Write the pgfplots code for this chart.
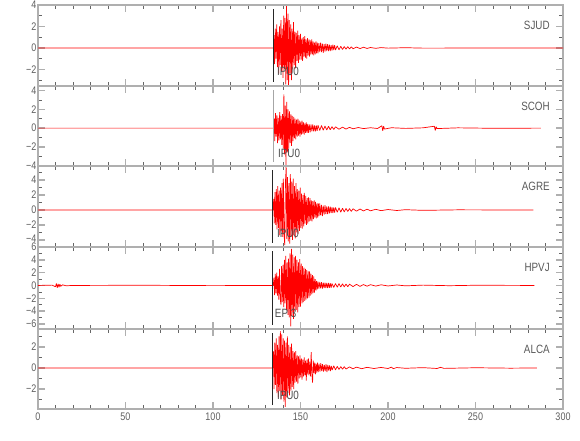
\documentclass[border=0pt]{standalone}
\usepackage{pgfplots}
\pgfplotsset{compat=1.18}
\usepackage{fontspec}
\setmainfont[FakeStretch=0.82]{Liberation Sans}
\definecolor{axgray}{RGB}{175,175,175}
\definecolor{txtgray}{RGB}{95,95,95}
\definecolor{trred}{RGB}{255,0,0}
\begin{document}
\begin{tikzpicture}
\pgfplotsset{
 panel/.style={scale only axis, width=525pt, xmin=0, xmax=300,
  xtick={0,50,...,300}, minor x tick num=4, xticklabels={},
  axis line style={draw=axgray, line width=1.5pt},
  major tick length=7pt, minor tick length=4pt,
  every major tick/.append style={draw=axgray, line width=1.5pt},
  every minor tick/.append style={draw=black!60, line width=0.6pt},
  tick align=inside, clip=false, anchor=north west,
  tick label style={font=\fontsize{11}{12}\selectfont, text=txtgray},
  yticklabel style={inner xsep=1.5pt},
 },
 trace/.style={draw=trred, line width=0.7pt, mark=none, line join=bevel},
 pick/.style={draw=black!85, line width=0.7pt, mark=none},
}
\newcommand{\stalabel}[1]{\node[anchor=east, inner sep=0pt, text=black!65, font=\fontsize{12}{12}\selectfont] at (rel axis cs:0.975,0.75) {#1};}
% ---------------- SJUD
\begin{axis}[panel, at={(0pt,0pt)}, height=81pt, ymin=-3.55, ymax=4,
  ytick={-2,0,2,4}, yticklabels={−2,0,2,4}, minor ytick={-3,-1,1,3}]
\addplot[trace] coordinates {(0,0) (134.6,0)
(134.9,1.2) (135.2,-1.5) (135.6,1.8) (136.0,-1.0) (136.4,2.2) (136.8,-1.8) (137.2,1.5) (137.6,-2.4) (138.0,2.0) (138.4,-1.6) (138.8,2.6) (139.2,-2.2) (139.6,1.8) (140.0,-2.8) (140.4,3.0) (140.8,-2.0) (141.2,2.8) (141.6,-3.4) (142.0,3.9) (142.4,-3.0) (142.8,3.2) (143.2,-3.6) (143.6,2.6) (144.0,-2.4) (144.4,2.2) (144.8,-3.0) (145.2,1.8) (145.6,-2.0) (146.0,2.4) (146.4,-1.6) (146.8,1.5) (147.2,-1.9) (147.6,1.4) (148.0,-1.2) (148.4,1.6) (148.8,-1.4) (149.2,1.2) (149.6,-1.1) (150.0,1.3) (150.4,-1.1) (150.8,0.9) (151.2,-1.2) (151.6,1.0) (152.0,-0.8) (152.4,1.1) (152.8,-0.9) (153.2,0.8) (153.6,-1.0) (154.0,0.9) (154.4,-0.7) (154.8,0.8) (155.2,-0.8) (155.6,0.7) (156.0,-0.6) (156.4,0.8) (156.8,-0.6) (157.2,0.6) (157.6,-0.7) (158.0,0.5) (158.4,-0.6) (158.8,0.6) (159.2,-0.5) (159.6,0.5) (160.0,-0.5) (160.5,0.45) (161.0,-0.4) (161.5,0.5) (162.0,-0.4) (162.5,0.4) (163.0,-0.45) (163.5,0.35) (164.0,-0.35) (164.5,0.4) (165.0,-0.3) (165.5,0.35) (166.0,-0.3) (166.5,0.3) (167.0,-0.3) (167.5,0.25) (168.0,-0.25) (168.5,0.3) (169.0,-0.2) (169.5,0.25) (170.0,-0.2) (171.0,0.2) (172.0,-0.18) (173.0,0.15) (174.0,-0.15) (175.0,0.13) (176.0,-0.12) (177.0,0.12) (178.0,-0.1) (179.0,0.1) (180.0,-0.08) (182.0,0.08) (184.0,-0.06) (186.0,0.06) (188.0,-0.05) (190.0,0.04) (193.0,-0.04) (196.0,0.03) (200.0,-0.02) (210,0.02) (220,-0.02) (300,0)};
\addplot[pick] coordinates {(134.5,-3.17) (134.5,3.62)};
\stalabel{SJUD}
\node[anchor=west, inner sep=0pt, text=black!70, font=\fontsize{12}{12}\selectfont] at (rel axis cs:0.455,0.18) {IPU0};
\end{axis}
% ---------------- SCOH
\begin{axis}[panel, at={(0pt,-81pt)}, height=80pt, ymin=-4.05, ymax=4.5,
  ytick={-4,-2,0,2,4}, yticklabels={−4,−2,0,2,4}, minor ytick={-3,-1,1,3}]
\addplot[trace] coordinates {(0,0) (134.7,0)
(135.0,1.0) (135.3,-1.4) (135.7,1.6) (136.1,-0.9) (136.5,1.4) (136.9,-1.6) (137.3,1.1) (137.7,-1.3) (138.1,1.7) (138.5,-1.2) (138.9,1.3) (139.3,-1.8) (139.7,1.5) (140.1,-2.2) (140.5,3.6) (140.9,-2.8) (141.3,2.4) (141.7,-4.3) (142.1,2.8) (142.5,-2.6) (142.9,2.0) (143.3,-2.2) (143.7,1.8) (144.1,-1.6) (144.5,1.5) (144.9,-1.9) (145.3,1.3) (145.7,-1.4) (146.1,1.2) (146.5,-1.1) (146.9,1.0) (147.3,-1.2) (147.7,0.9) (148.1,-0.9) (148.5,1.0) (148.9,-0.8) (149.3,0.8) (149.7,-0.9) (150.1,0.7) (150.5,-0.7) (150.9,0.8) (151.3,-0.6) (151.7,0.6) (152.1,-0.7) (152.5,0.5) (152.9,-0.5) (153.3,0.6) (153.7,-0.5) (154.1,0.45) (154.5,-0.5) (155.0,0.4) (155.5,-0.45) (156.0,0.4) (156.5,-0.35) (157.0,0.4) (157.5,-0.35) (158.0,0.3) (158.5,-0.35) (159.0,0.3) (159.5,-0.3) (160.0,0.3) (161.0,-0.25) (162.0,0.28) (163.0,-0.22) (164.0,0.22) (165.0,-0.2) (166.0,0.2) (167.0,-0.18) (168.0,0.16) (169.0,-0.15) (170.0,0.14) (172.0,-0.12) (174.0,0.1) (176.0,-0.1) (178.0,0.08) (180.0,-0.07) (183.0,0.06) (186.0,-0.05) (190.0,0.04) (194.0,-0.04) (196.5,0.25) (197.0,-0.3) (197.5,0.2) (198.0,-0.1) (202,0.04) (210,-0.03) (220,0.03) (226.5,0.2) (227,-0.25) (227.5,0.15) (228,-0.05) (240,0.03) (260,-0.02) (287.4,0)};
\addplot[draw=black!35, line width=1.2pt, mark=none] coordinates {(134.7,-3.62) (134.7,4.07)};
\stalabel{SCOH}
\node[anchor=west, inner sep=0pt, text=black!70, font=\fontsize{12}{12}\selectfont] at (rel axis cs:0.457,0.16) {IPU0};
\end{axis}
% ---------------- AGRE
\begin{axis}[panel, at={(0pt,-161pt)}, height=81pt, ymin=-4.95, ymax=5.9,
  ytick={-4,-2,0,2,4}, yticklabels={\raisebox{1.5pt}{−4},−2,0,2,4}, minor ytick={-3,-1,1,3,5}]
\addplot[trace] coordinates {(0,0) (134.4,0)
(134.7,1.5) (135.0,-1.8) (135.4,2.4) (135.8,-2.0) (136.2,2.8) (136.6,-2.6) (137.0,3.2) (137.4,-2.4) (137.8,2.6) (138.2,-3.4) (138.6,3.0) (139.0,-2.8) (139.4,3.6) (139.8,-3.6) (140.2,4.2) (140.6,-3.2) (141.0,-4.7) (141.4,3.8) (141.8,5.6) (142.2,-3.9) (142.6,4.4) (143.0,-4.2) (143.4,3.6) (143.8,-4.5) (144.2,4.8) (144.6,-3.6) (145.0,3.8) (145.4,-4.0) (145.8,4.2) (146.2,-3.4) (146.6,3.2) (147.0,-3.8) (147.4,3.6) (147.8,-3.0) (148.2,2.8) (148.6,-3.2) (149.0,2.6) (149.4,-2.8) (149.8,3.0) (150.2,-2.4) (150.6,2.2) (151.0,-2.5) (151.4,2.0) (151.8,-2.2) (152.2,2.3) (152.6,-1.8) (153.0,1.9) (153.4,-2.0) (153.8,1.6) (154.2,-1.8) (154.6,1.7) (155.0,-1.5) (155.4,1.6) (155.8,-1.4) (156.2,1.3) (156.6,-1.5) (157.0,1.2) (157.4,-1.2) (157.8,1.3) (158.2,-1.0) (158.6,1.1) (159.0,-1.1) (159.4,0.9) (159.8,-1.0) (160.2,0.9) (160.6,-0.8) (161.0,0.9) (161.5,-0.7) (162.0,0.7) (162.5,-0.8) (163.0,0.6) (163.5,-0.6) (164.0,0.65) (164.5,-0.55) (165.0,0.5) (165.5,-0.55) (166.0,0.5) (166.5,-0.45) (167.0,0.45) (167.5,-0.4) (168.0,0.4) (168.5,-0.4) (169.0,0.35) (169.5,-0.35) (170.0,0.35) (171.0,-0.3) (172.0,0.3) (173.0,-0.28) (174.0,0.25) (175.0,-0.25) (176.0,0.22) (177.0,-0.2) (178.0,0.2) (179.0,-0.18) (180.0,0.17) (182.0,-0.15) (184.0,0.14) (186.0,-0.12) (188.0,0.12) (190.0,-0.1) (193.0,0.1) (196.0,-0.08) (200.0,0.07) (205,-0.06) (210,0.05) (220,-0.04) (240,0.03) (283,0)};
\addplot[pick] coordinates {(134.0,-4.41) (134.0,5.36)};
\stalabel{AGRE}
\node[anchor=west, inner sep=0pt, text=black!70, font=\fontsize{12}{12}\selectfont] at (rel axis cs:0.455,0.17) {IPU0};
\end{axis}
% ---------------- HPVJ
\begin{axis}[panel, at={(0pt,-242pt)}, height=82pt, ymin=-6.8, ymax=6,
  ytick={-6,-4,-2,0,2,4,6}, yticklabels={−6,−4,−2,0,2,4,\raisebox{-2pt}{6}}, minor ytick={-5,-3,-1,1,3,5}]
\addplot[trace] coordinates {(0,0) (8,0.05) (10,-0.2) (10.5,0.3) (11,-0.35) (11.5,0.25) (12,-0.3) (12.5,0.2) (13,-0.15) (14,0.1) (16,-0.05) (20,0) (60,0.03) (100,-0.03) (134.5,0)
(134.8,1.2) (135.2,-1.5) (135.6,1.8) (136.0,-1.2) (136.4,2.0) (136.8,-1.6) (137.2,1.4) (137.6,-2.2) (138.0,2.6) (138.4,-2.0) (138.8,-3.0) (139.2,3.0) (139.6,-2.6) (140.0,3.2) (140.4,-3.4) (140.8,4.0) (141.2,-2.8) (141.6,4.6) (142.0,-3.8) (142.4,3.6) (142.8,-4.6) (143.2,4.2) (143.6,-5.0) (144.0,5.0) (144.4,-6.4) (144.8,5.7) (145.2,-4.8) (145.6,4.8) (146.0,-5.2) (146.4,4.4) (146.8,-4.0) (147.2,4.6) (147.6,-3.8) (148.0,4.0) (148.4,-4.2) (148.8,3.6) (149.2,-3.4) (149.6,4.1) (150.0,-3.3) (150.4,3.4) (150.8,-2.8) (151.2,3.0) (151.6,-2.6) (152.0,2.8) (152.4,-2.4) (152.8,2.6) (153.2,-2.2) (153.6,2.4) (154.0,-2.0) (154.4,2.2) (154.8,-1.9) (155.2,2.2) (155.6,-1.6) (156.0,1.8) (156.4,-1.4) (156.8,1.6) (157.2,-1.2) (157.6,1.4) (158.0,-1.1) (158.4,1.0) (158.8,-0.8) (159.2,0.7) (159.6,-0.6) (160.0,0.6) (160.5,-0.5) (161.0,0.55) (161.5,-0.45) (162.0,0.5) (162.5,-0.5) (163.0,0.45) (163.5,-0.4) (164.0,0.45) (164.5,-0.4) (165.0,0.4) (165.5,-0.4) (166.0,0.38) (166.5,-0.35) (167.0,0.35) (167.5,-0.35) (168.0,0.3) (169.0,-0.3) (170.0,0.3) (171.0,-0.28) (172.0,0.28) (173.0,-0.25) (174.0,0.25) (175.0,-0.22) (176.0,0.22) (177.0,-0.2) (178.0,0.2) (180.0,-0.18) (182.0,0.17) (184.0,-0.15) (186.0,0.14) (188.0,-0.12) (190.0,0.12) (193.0,-0.1) (196.0,0.1) (200.0,-0.08) (205,0.07) (210,-0.06) (220,0.05) (235,-0.04) (250,0.03) (283.6,0)};
\addplot[pick] coordinates {(134.0,-6.16) (134.0,5.36)};
\stalabel{HPVJ}
\node[anchor=west, inner sep=0pt, text=black!70, font=\fontsize{12}{12}\selectfont] at (rel axis cs:0.451,0.195) {EP 3};
\end{axis}
% ---------------- ALCA
\begin{axis}[panel, at={(0pt,-324pt)}, height=80pt, ymin=-3.9, ymax=3.7,
  ytick={-2,0,2}, yticklabels={−2,0,2}, minor ytick={-3,-1,1,3},
  xticklabels={0,50,100,150,200,250,300}]
\addplot[trace] coordinates {(0,0) (134.2,0)
(134.5,1.6) (134.9,-2.0) (135.3,2.4) (135.7,-1.6) (136.1,2.8) (136.5,-2.4) (136.9,2.2) (137.3,-2.8) (137.7,3.0) (138.1,-2.2) (138.5,3.5) (138.9,-3.0) (139.3,3.2) (139.7,-2.6) (140.1,2.8) (140.5,-3.2) (140.9,2.6) (141.3,-3.7) (141.7,2.4) (142.1,-2.8) (142.5,3.0) (142.9,-2.4) (143.3,2.2) (143.7,-2.6) (144.1,2.0) (144.5,-2.2) (144.9,2.3) (145.3,-1.8) (145.7,1.6) (146.1,-2.0) (146.5,1.5) (146.9,-1.4) (147.3,1.6) (147.7,-1.3) (148.1,1.2) (148.5,-1.5) (148.9,1.1) (149.3,-1.0) (149.7,1.2) (150.1,-0.9) (150.5,0.9) (150.9,-1.1) (151.3,0.8) (151.7,-0.8) (152.1,1.0) (152.5,-0.7) (152.9,0.7) (153.3,-1.2) (153.7,0.8) (154.1,-0.6) (154.5,0.9) (154.9,-0.7) (155.3,0.6) (155.7,-0.8) (156.1,1.5) (156.5,-0.6) (156.9,-1.4) (157.3,0.7) (157.7,-0.5) (158.1,0.5) (158.5,-0.6) (158.9,0.4) (159.3,-0.45) (159.7,0.5) (160.1,-0.4) (160.6,0.4) (161.1,-0.35) (161.6,0.45) (162.1,-0.3) (162.6,0.35) (163.1,-0.35) (163.6,0.3) (164.1,-0.3) (164.6,0.35) (165.1,-0.4) (165.6,0.3) (166.1,-0.25) (166.6,0.25) (167.1,-0.3) (167.6,0.2) (168.1,-0.2) (169,0.2) (170,-0.18) (171,0.15) (172,-0.15) (173,0.13) (174,-0.12) (175,0.12) (176,-0.1) (178,0.1) (180,-0.08) (182,0.08) (185,-0.07) (188,0.06) (192,-0.05) (196,0.05) (200,-0.05) (202,0.08) (203,-0.07) (205,0.04) (210,-0.03) (220,0.03) (228,-0.05) (230,0.06) (232,-0.04) (250,0.02) (270,-0.02) (285,0)};
\addplot[pick] coordinates {(134.0,-3.52) (134.0,3.32)};
\stalabel{ALCA}
\node[anchor=west, inner sep=0pt, text=black!70, font=\fontsize{12}{12}\selectfont] at (rel axis cs:0.455,0.175) {IPU0};
\end{axis}
\pgfresetboundingbox
\path[use as bounding box] (-38pt,5pt) rectangle (542pt,-435pt);
\end{tikzpicture}
\end{document}
